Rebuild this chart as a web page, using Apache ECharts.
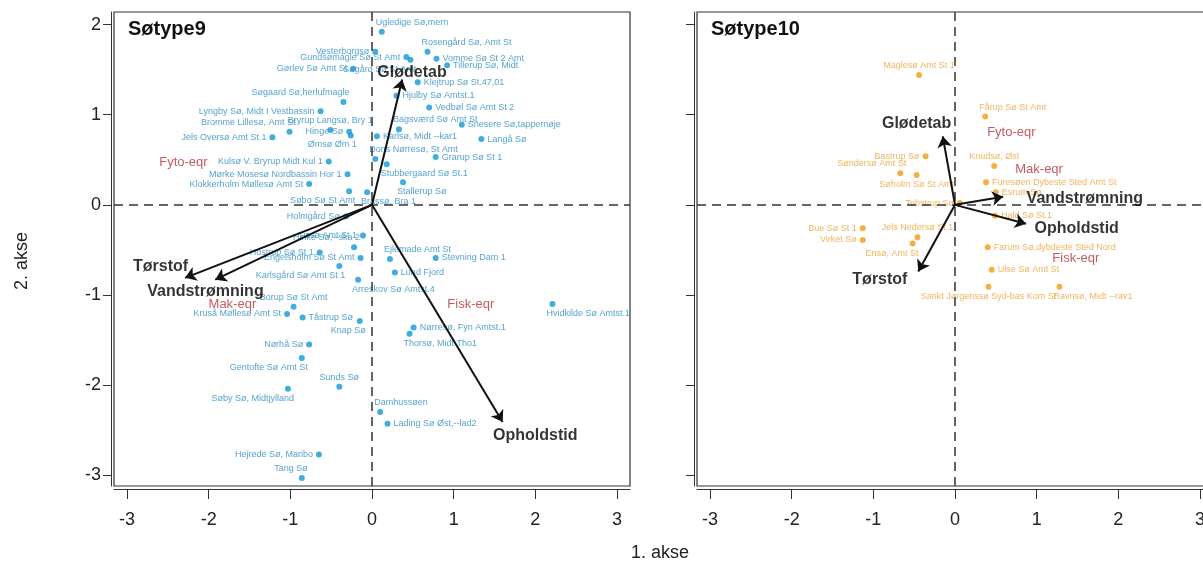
<!DOCTYPE html>
<html>
<head>
<meta charset="utf-8">
<script src="https://cdn.jsdelivr.net/npm/echarts@6/dist/echarts.min.js"></script>
<style>html,body{margin:0;padding:0;background:#fff}#c{width:1203px;height:563px}</style>
</head>
<body>
<div id="c"></div>
<script>
// ---------- data ----------
const xTicks = [-3, -2, -1, 0, 1, 2, 3];
const yTicks = [-3, -2, -1, 0, 1, 2];
const panelTitles = ['Søtype9', 'Søtype10'];

// Søtype9 sites
const names9 = ['Ugledige Sø,mern','Vesterborgsø','Gundsømagle Sø St Amt','Søgård Sø St Amt','Gørlev Sø Amt St','Rosengård Sø, Amt St','Vomme Sø St 2 Amt','Tillerup Sø, Midt','Klejtrup Sø St.47,01','Hjulby Sø Amtst.1','Vedbøl Sø Amt St 2','Bagsværd Sø Amt St','Snesere Sø,tappernøje','Langå Sø','Karlsø, Midt --kar1','Dons Nørresø, St Amt','Grarup Sø St 1','Stubbergaard Sø St.1','Stallerup Sø','Brassø, Bra 1','Søbo Sø St Amt','Klokkerholm Møllesø Amt St','Mørke Mosesø Nordbassin Hor 1','Kulsø V. Bryrup Midt Kul 1','Hinge Sø','Ømsø Øm 1','Bryrup Langsø, Bry 1','Bromme Lillesø, Amt St','Jels Oversø Amt St 1','Lyngby Sø, Midt I Vestbassin','Søgaard Sø,herlufmagle','Holmgård Sø','Tissø Amt St 1','Hinke Sø,--ska 2','Hostrup Sø St 1','Engelsholm Sø St Amt','Karlsgård Sø Amt St 1','Arreskov Sø Amtst.4','Ejlemade Amt St','Stevning Dam 1','Lund Fjord','Borup Sø St Amt','Kruså Møllesø Amt St','Tåstrup Sø','Knap Sø','Hvidkilde Sø Amtst.1','Nørresø, Fyn Amtst.1','Thorsø, Midt Tho1','Nørhå Sø','Gentofte Sø Amt St','Sunds Sø','Søby Sø, Midtjylland','Hejrede Sø, Maribo','Tang Sø','Damhussøen','Lading Sø Øst,--lad2'];
const x9 = [0.12,0.04,0.42,0.47,-0.23,0.68,0.79,0.92,0.56,0.30,0.70,0.33,1.10,1.34,0.06,0.04,0.78,0.18,0.38,-0.06,-0.28,-0.77,-0.30,-0.53,-0.28,-0.26,-0.51,-1.01,-1.22,-0.63,-0.35,-0.32,-0.11,-0.22,-0.64,-0.14,-0.40,-0.17,0.22,0.78,0.28,-0.96,-1.04,-0.85,-0.15,2.21,0.51,0.46,-0.77,-0.86,-0.40,-1.03,-0.65,-0.86,0.10,0.19];
const y9 = [1.92,1.70,1.64,1.61,1.51,1.70,1.62,1.55,1.36,1.21,1.08,0.84,0.89,0.73,0.76,0.51,0.53,0.45,0.25,0.14,0.15,0.23,0.34,0.48,0.81,0.77,0.83,0.81,0.75,1.04,1.14,-0.13,-0.34,-0.47,-0.53,-0.59,-0.68,-0.83,-0.60,-0.59,-0.75,-1.13,-1.21,-1.25,-1.29,-1.10,-1.36,-1.43,-1.55,-1.70,-2.02,-2.04,-2.77,-3.03,-2.30,-2.43];
const labelSide9 = ['TR','L','L','BL','L','TR','R','R','R','R','R','TR','R','R','R','TR','R','BR','BR','BR','BL','L','L','L','L','BL','T','TL','L','L','TL','L','L','TL','L','L','BL','BR','TR','R','R','T','L','R','BL','BR','R','BR','L','BL','T','BL','L','TL','TR','R'];

// Søtype10 sites
const names10 = ['Maglesø Amt St 1','Fårup Sø St Amt','Bastrup Sø','Søndersø Amt St','Søholm Sø St Amt','Knudsø, Øst','Furesøen Dybeste Sted Amt St','Esrum Sø','Tebstrup Sø','Hald Sø St.1','Bue Sø St 1','Virket Sø','Jels Nedersø St 1','Ensø, Amt St','Farum Sø,dybdeste Sted Nord','Ulse Sø Amt St','Sankt Jørgenssø Syd-bas Kom St','Ravnsø, Midt --rav1'];
const x10 = [-0.44,0.37,-0.36,-0.67,-0.47,0.48,0.38,0.50,0.06,0.49,-1.13,-1.13,-0.46,-0.52,0.40,0.45,0.41,1.28];
const y10 = [1.44,0.98,0.54,0.35,0.33,0.43,0.25,0.14,0.02,-0.12,-0.26,-0.39,-0.36,-0.43,-0.47,-0.72,-0.91,-0.91];
const labelSide10 = ['T','TR','L','TL','B','T','R','R','L','R','L','L','T','BL','R','R','B','BR'];

// environmental vectors
const vecNames = ['Glødetab','Tørstof','Vandstrømning','Opholdstid'];
const vec9x = [0.37,-2.29,-1.92,1.60];
const vec9y = [1.39,-0.81,-0.83,-2.41];
const vecLab9x = [0.49,-2.59,-2.04,2.00];
const vecLab9y = [1.47,-0.69,-0.96,-2.56];
const vec10x = [-0.15,-0.45,0.59,0.87];
const vec10y = [0.76,-0.74,0.09,-0.21];
const vecLab10x = [-0.47,-0.92,1.59,1.49];
const vecLab10y = [0.90,-0.83,0.07,-0.26];

// passive variables
const eqrNames = ['Fyto-eqr','Mak-eqr','Fisk-eqr'];
const eqr9x = [-2.31,-1.71,1.21];
const eqr9y = [0.47,-1.10,-1.11];
const eqr10x = [0.69,1.03,1.48];
const eqr10y = [0.80,0.39,-0.60];

// ---------- chart ----------
const FONT = '"Liberation Sans", Arial, sans-serif';
const XMIN = -3.16, XMAX = 3.16, YMIN = -3.12, YMAX = 2.14;

function labelFor(side) {
  const base = {show: true, fontSize: 9, fontFamily: FONT, distance: 3};
  switch (side) {
    case 'L': return Object.assign(base, {position: 'left'});
    case 'R': return Object.assign(base, {position: 'right'});
    case 'T': return Object.assign(base, {position: 'top', distance: 2});
    case 'B': return Object.assign(base, {position: 'bottom', distance: 2});
    case 'TR': return Object.assign(base, {position: 'top', align: 'left', offset: [-6, 0], distance: 2});
    case 'TL': return Object.assign(base, {position: 'top', align: 'right', offset: [6, 0], distance: 2});
    case 'BR': return Object.assign(base, {position: 'bottom', align: 'left', offset: [-6, 0], distance: 2});
    case 'BL': return Object.assign(base, {position: 'bottom', align: 'right', offset: [6, 0], distance: 2});
  }
  return base;
}

function sitePoints(names, xs, ys, sides) {
  return names.map((n, i) => ({name: n, value: [xs[i], ys[i]], label: labelFor(sides[i])}));
}

const grids = [
  {left: 114, top: 12, width: 516, height: 474},
  {left: 697, top: 12, width: 516, height: 474}
];

function xAxisFor(g) {
  return {
    gridIndex: g, type: 'value', min: XMIN, max: XMAX, offset: 3,
    splitLine: {show: false},
    axisLine: {show: true, onZero: false, lineStyle: {color: '#333', width: 1}},
    axisTick: {show: true, length: 10, customValues: xTicks, lineStyle: {color: '#333'}},
    axisLabel: {customValues: xTicks, fontSize: 18, color: '#222', fontFamily: FONT, margin: 22}
  };
}
function yAxisFor(g) {
  return {
    gridIndex: g, type: 'value', min: YMIN, max: YMAX, offset: 3,
    splitLine: {show: false},
    axisLine: {show: true, onZero: false, lineStyle: {color: '#333', width: 1}},
    axisTick: {show: true, length: 8, customValues: yTicks, lineStyle: {color: '#333'}},
    axisLabel: {show: g === 0, customValues: yTicks, fontSize: 18, color: '#222', fontFamily: FONT, margin: 10}
  };
}

function panelSeries(g, pts, dotColor, textColor, vx, vy, lx, ly, ex, ey) {
  return [
    { // zero dashed lines
      type: 'scatter', xAxisIndex: g, yAxisIndex: g, data: [], silent: true,
      markLine: {
        silent: true, symbol: ['none', 'none'], label: {show: false},
        lineStyle: {color: '#333', type: [9, 6], width: 1.5},
        data: [{xAxis: 0}, {yAxis: 0}]
      }
    },
    { // sites
      type: 'scatter', xAxisIndex: g, yAxisIndex: g, symbolSize: 6, silent: true,
      itemStyle: {color: dotColor},
      label: {show: true, formatter: p => p.name, color: textColor, fontSize: 9, fontFamily: FONT},
      data: pts.map(p => Object.assign(p, {label: Object.assign(p.label, {color: textColor, formatter: q => q.name})})),
      z: 3
    },
    { // vectors
      type: 'scatter', xAxisIndex: g, yAxisIndex: g, data: [], silent: true, z: 4,
      markLine: {
        silent: true, symbol: ['none', 'arrow'], symbolSize: 11, label: {show: false},
        lineStyle: {color: '#111', type: 'solid', width: 2},
        data: vx.map((v, i) => [{coord: [0, 0]}, {coord: [vx[i], vy[i]]}])
      }
    },
    { // vector names
      type: 'scatter', xAxisIndex: g, yAxisIndex: g, symbolSize: 0, silent: true, z: 5,
      label: {show: true, position: 'inside', formatter: p => p.name, color: '#000', fontSize: 16, fontWeight: 'bold', fontFamily: FONT},
      data: vecNames.map((n, i) => ({name: n, value: [lx[i], ly[i]]}))
    },
    { // passive eqr
      type: 'scatter', xAxisIndex: g, yAxisIndex: g, symbolSize: 0, silent: true, z: 5,
      label: {show: true, position: 'inside', formatter: p => p.name, color: '#b8303a', fontSize: 13, fontFamily: FONT},
      data: eqrNames.map((n, i) => ({name: n, value: [ex[i], ey[i]]}))
    }
  ];
}

const chart = echarts.init(document.getElementById('c'), null, {renderer: 'canvas'});
chart.setOption({
  animation: false,
  backgroundColor: '#fff',
  title: [
    {text: panelTitles[0], left: 123, top: 14, textStyle: {fontSize: 20, fontWeight: 'bold', color: '#111', fontFamily: FONT}},
    {text: panelTitles[1], left: 706, top: 14, textStyle: {fontSize: 20, fontWeight: 'bold', color: '#111', fontFamily: FONT}}
  ],
  grid: grids.map(g => Object.assign({show: true, borderColor: '#333', borderWidth: 1.2, backgroundColor: 'transparent', containLabel: false, outerBoundsMode: 'none'}, g)),
  xAxis: [xAxisFor(0), xAxisFor(1)],
  yAxis: [yAxisFor(0), yAxisFor(1)],
  graphic: [
    {type: 'text', x: 660, y: 553, style: {text: '1. akse', fill: '#222', font: '18px ' + FONT, textAlign: 'center', textVerticalAlign: 'middle'}},
    {type: 'text', x: 22, y: 261, rotation: Math.PI / 2, style: {text: '2. akse', fill: '#222', font: '18px ' + FONT, textAlign: 'center', textVerticalAlign: 'middle'}}
  ],
  series: [].concat(
    panelSeries(0, sitePoints(names9, x9, y9, labelSide9), '#1199d6', '#2b8cc0', vec9x, vec9y, vecLab9x, vecLab9y, eqr9x, eqr9y),
    panelSeries(1, sitePoints(names10, x10, y10, labelSide10), '#f39c17', '#eba236', vec10x, vec10y, vecLab10x, vecLab10y, eqr10x, eqr10y)
  )
});
</script>
</body>
</html>
